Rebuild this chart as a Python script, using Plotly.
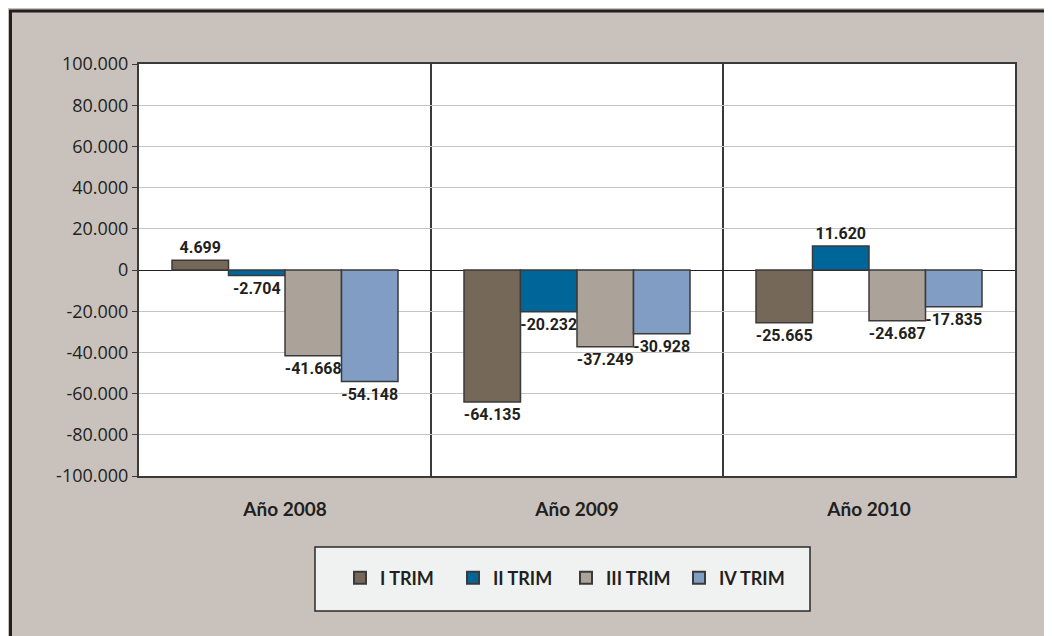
import plotly.graph_objects as go

years = ["Año 2008", "Año 2009", "Año 2010"]
series_names = ["I TRIM", "II TRIM", "III TRIM", "IV TRIM"]
i_trim = [4699, -64135, -25665]
ii_trim = [-2704, -20232, 11620]
iii_trim = [-41668, -37249, -24687]
iv_trim = [-54148, -30928, -17835]
colors = ["#756858", "#00669A", "#ABA399", "#819DC4"]

y_ticks = [-100000, -80000, -60000, -40000, -20000, 0, 20000, 40000, 60000, 80000, 100000]
y_ticktext = [f"{v:,}".replace(",", ".") for v in y_ticks]

# figure pixel geometry (the page adds an 8px body margin)
W, H = 1052, 636
L, T = 131, 56
R, B = W - 1007, H - 468
pw, ph = W - L - R, H - T - B


def px_x(p):
    return (p - L) / pw


def px_y(p):
    return (H - B - p) / ph


fig = go.Figure()
for name, vals, col in zip(series_names, [i_trim, ii_trim, iii_trim, iv_trim], colors):
    fig.add_trace(go.Bar(
        x=years, y=vals, name=name,
        marker=dict(color=col, line=dict(color="#3A3A3A", width=1.5)),
        text=[f"{v:,}".replace(",", ".") for v in vals],
        textposition="outside",
        constraintext="none",
        cliponaxis=False,
        textfont=dict(family="Roboto, sans-serif", size=16, color="#231F20", weight="bold"),
    ))

# outer frame and legend box
fig.add_shape(type="rect", xref="paper", yref="paper", layer="above",
              x0=px_x(2.5), x1=px_x(1070), y0=px_y(660), y1=px_y(3),
              line=dict(color="#231F20", width=3))
fig.add_shape(type="rect", xref="paper", yref="paper", layer="below",
              x0=px_x(307), x1=px_x(802), y0=px_y(603), y1=px_y(539),
              fillcolor="#F0F2F1", line=dict(color="#2A2A2A", width=1.5))

fig.update_layout(
    width=W, height=H,
    margin=dict(l=L, r=R, t=T, b=B),
    paper_bgcolor="#C9C2BC",
    plot_bgcolor="white",
    barmode="group",
    bargap=0.226,
    bargroupgap=0,
    showlegend=True,
    legend=dict(
        orientation="h", x=px_x(558), y=px_y(570), xanchor="center", yanchor="middle",
        bgcolor="rgba(0,0,0,0)", borderwidth=0,
        font=dict(family="Lato, sans-serif", size=18, color="#231F20", weight="bold"),
        itemsizing="constant",
        entrywidth=68, entrywidthmode="pixels",
    ),
    xaxis=dict(
        type="category", tickson="boundaries", ticks="",
        showgrid=True, gridcolor="#3A3A3A", gridwidth=1.5,
        showline=True, linecolor="#3A3A3A", linewidth=2, mirror=True,
        tickfont=dict(family="Lato, sans-serif", size=19, color="#231F20", weight="bold"),
        ticklabelstandoff=15,
    ),
    yaxis=dict(
        range=[-100000, 100000],
        tickvals=y_ticks, ticktext=y_ticktext,
        ticks="outside", ticklen=5, tickcolor="#3A3A3A",
        showgrid=True, gridcolor="#C4C4C4", gridwidth=1,
        zeroline=True, zerolinecolor="#231F20", zerolinewidth=1,
        showline=True, linecolor="#3A3A3A", linewidth=2, mirror=True,
        tickfont=dict(family="Open Sans, sans-serif", size=18, color="#231F20"),
    ),
)

fig.write_html("out.html")
